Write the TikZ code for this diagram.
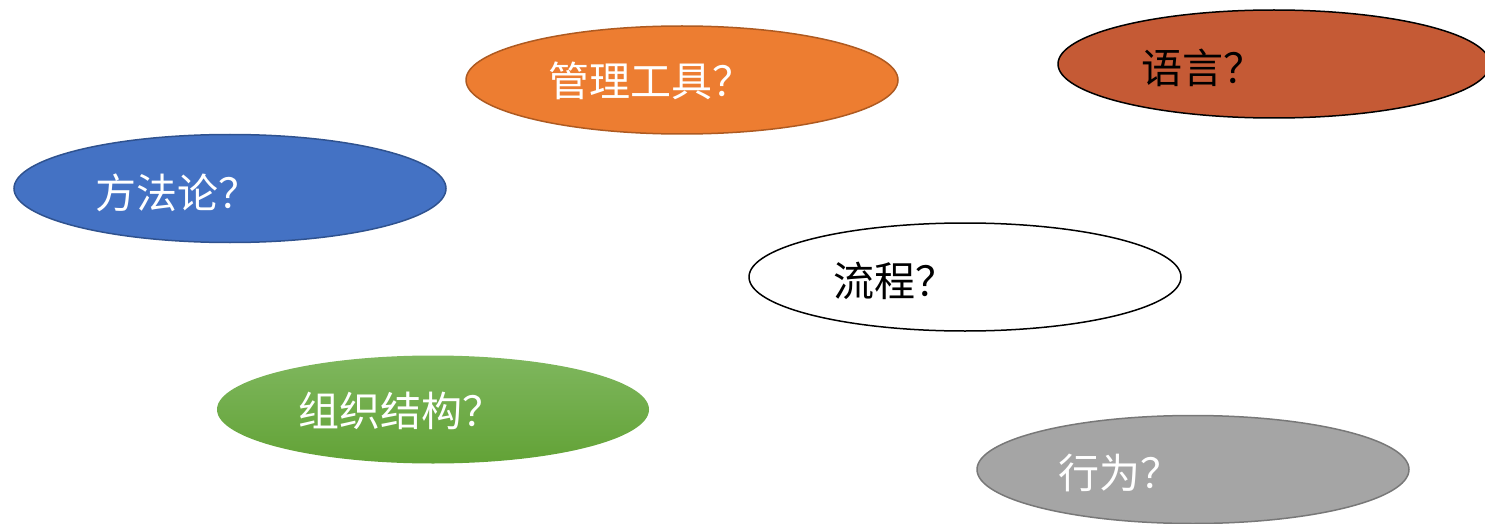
\documentclass[tikz,border=0pt]{standalone}
\usepackage{fontspec}
\newfontfamily\cjk{Noto Sans CJK SC}
\usetikzlibrary{shapes.geometric}
\definecolor{orangeF}{HTML}{ED7D31}
\definecolor{orangeD}{HTML}{AE5A21}
\definecolor{rustF}{HTML}{C55A35}
\definecolor{blueF}{HTML}{4472C4}
\definecolor{blueD}{HTML}{2F528F}
\definecolor{greenT}{HTML}{7FB75E}
\definecolor{greenB}{HTML}{62A236}
\definecolor{grayF}{HTML}{A5A5A5}
\definecolor{grayD}{HTML}{787878}
\tikzset{
  bubble/.style={ellipse, minimum width=432pt, minimum height=108pt, inner sep=0pt, line width=1.5pt},
  label/.style={anchor=west, inner sep=0pt, font=\cjk\fontsize{41}{41}\selectfont}
}
\begin{document}
\begin{tikzpicture}[x=1pt,y=-1pt]
\useasboundingbox (0,0) rectangle (1485,524);
\begin{scope}
\clip (0,0) rectangle (1485,524);
\node[bubble, draw=orangeD, fill=orangeF] (tools) at (682,80) {};
\node[bubble, draw=black, fill=rustF] (lang) at (1274,64) {};
\node[bubble, draw=blueD, fill=blueF] (method) at (230,188.5) {};
\node[bubble, draw=black, fill=white] (proc) at (965,277) {};
\node[bubble, top color=greenT, bottom color=greenB, draw=none] (org) at (433,409.5) {};
\node[bubble, draw=grayD, fill=grayF] (beh) at (1193,469.5) {};
\end{scope}
\node[label, text=white] (tt) at (548,81) {管理工具？};
\node[label, text=black] (lt) at (1141,68) {语言？};
\node[label, text=white] (mt) at (95,193) {方法论？};
\node[label, text=black] (pt) at (833,281) {流程？};
\node[label, text=white] (ot) at (298,411) {组织结构？};
\node[label, text=white] (bt) at (1058,473) {行为？};
\end{tikzpicture}
\end{document}
